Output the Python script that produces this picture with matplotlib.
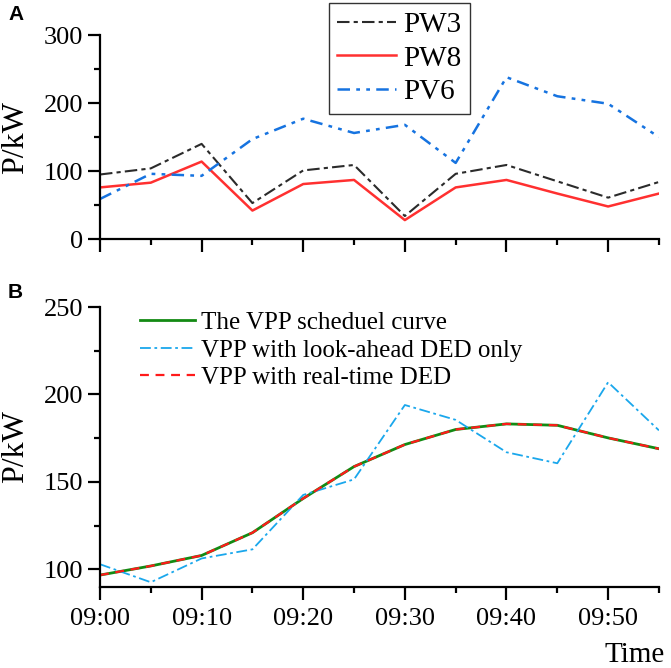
import matplotlib
matplotlib.use('Agg')
import matplotlib.pyplot as plt
from matplotlib.ticker import MultipleLocator

plt.rcParams['font.family'] = ['Liberation Serif', 'DejaVu Serif']

# time axis, minutes after 09:00
minutes = [0, 5, 10, 15, 20, 25, 30, 35, 40, 45, 50, 55]
tick_pos = [0, 10, 20, 30, 40, 50]
tick_labels = ['09:00', '09:10', '09:20', '09:30', '09:40', '09:50']

# panel A
pw3 = [95, 104, 140, 53, 101, 109, 34, 96, 109, 85, 61, 84]
pw8 = [76, 83, 114, 42, 81, 87, 28, 76, 87, 67, 48, 67]
pv6 = [59, 96, 93, 147, 177, 156, 168, 112, 238, 210, 199, 150]

# panel B
sched = [96.8, 102, 108, 121, 140.6, 158.8, 171.4, 180, 183.2, 182.4, 175.2, 169]
look_ahead = [103, 92.7, 106.3, 111.5, 142.6, 151.5, 194, 185.5, 167, 160.7, 207, 179.5]
real_time = sched

fig = plt.figure(figsize=(6.71, 6.68), dpi=100)
ax1 = fig.add_axes([0.149, 0.642, 0.833, 0.3056])
ax2 = fig.add_axes([0.149, 0.1213, 0.833, 0.4191])

def style(ax):
    for s in ['top', 'right']:
        ax.spines[s].set_visible(False)
    for s in ['left', 'bottom']:
        ax.spines[s].set_linewidth(1.6)
    ax.tick_params(which='major', direction='out', length=9, width=1.6, labelsize=19, pad=3)
    ax.tick_params(which='minor', direction='out', length=4, width=1.6)
    ax.set_xlim(0, 55)
    ax.xaxis.set_major_locator(MultipleLocator(10))
    ax.xaxis.set_minor_locator(MultipleLocator(5))

style(ax1)
ax1.plot(minutes, pw3, color='#2b2b2b', lw=1.5, ls=(0, (6, 2, 2, 2)), label='PW3')
ax1.plot(minutes, pw8, color='#ff3030', lw=1.8, ls='-', label='PW8')
ax1.plot(minutes, pv6, color='#1673e0', lw=1.8, ls=(0, (5, 2.5, 1.5, 2.5, 1.5, 2.5)), label='PV6')
ax1.set_ylim(0, 300)
ax1.yaxis.set_major_locator(MultipleLocator(100))
ax1.yaxis.set_minor_locator(MultipleLocator(50))
ax1.set_xticks(tick_pos)
ax1.set_xticklabels([])
ax1.set_ylabel('P/kW', fontsize=23)
ax1.yaxis.set_label_coords(-0.125, 0.5)
leg1 = fig.legend(loc='upper center', bbox_to_anchor=(0.595, 0.996), fontsize=21,
                  frameon=True, fancybox=False, edgecolor='black', handlelength=2.0,
                  labelspacing=0.25, handletextpad=0.25, borderpad=0.3, borderaxespad=0)
leg1.get_frame().set_linewidth(1.0)

style(ax2)
ax2.plot(minutes, sched, color='#138a13', lw=2.0, ls='-', label='The VPP scheduel curve')
ax2.plot(minutes, look_ahead, color='#1aa7ec', lw=1.3, ls=(0, (6, 2, 1.5, 2)), label='VPP with look-ahead DED only')
ax2.plot(minutes, real_time, color='#ff1a1a', lw=1.6, ls=(0, (4, 3)), label='VPP with real-time DED')
ax2.set_ylim(90, 250)
ax2.yaxis.set_major_locator(MultipleLocator(50))
ax2.yaxis.set_minor_locator(MultipleLocator(25))
ax2.set_xticks(tick_pos)
ax2.set_xticklabels(tick_labels)
ax2.tick_params(axis='x', pad=6)
ax2.set_ylabel('P/kW', fontsize=23)
ax2.yaxis.set_label_coords(-0.125, 0.5)
ax2.legend(loc='upper left', bbox_to_anchor=(0.045, 1.037), fontsize=18, frameon=False,
           handlelength=2.2, labelspacing=0.2, handletextpad=0.25, borderaxespad=0.2)

fig.text(0.991, 1 - 655 / 668, 'Time', ha='right', va='center', fontsize=21)
fig.text(0.012, 1 - 14 / 668, 'A', ha='left', va='center', fontsize=15,
         fontweight='bold', family='Liberation Sans')
fig.text(0.012, 1 - 293 / 668, 'B', ha='left', va='center', fontsize=15,
         fontweight='bold', family='Liberation Sans')

fig.savefig('out.png', dpi=100)
